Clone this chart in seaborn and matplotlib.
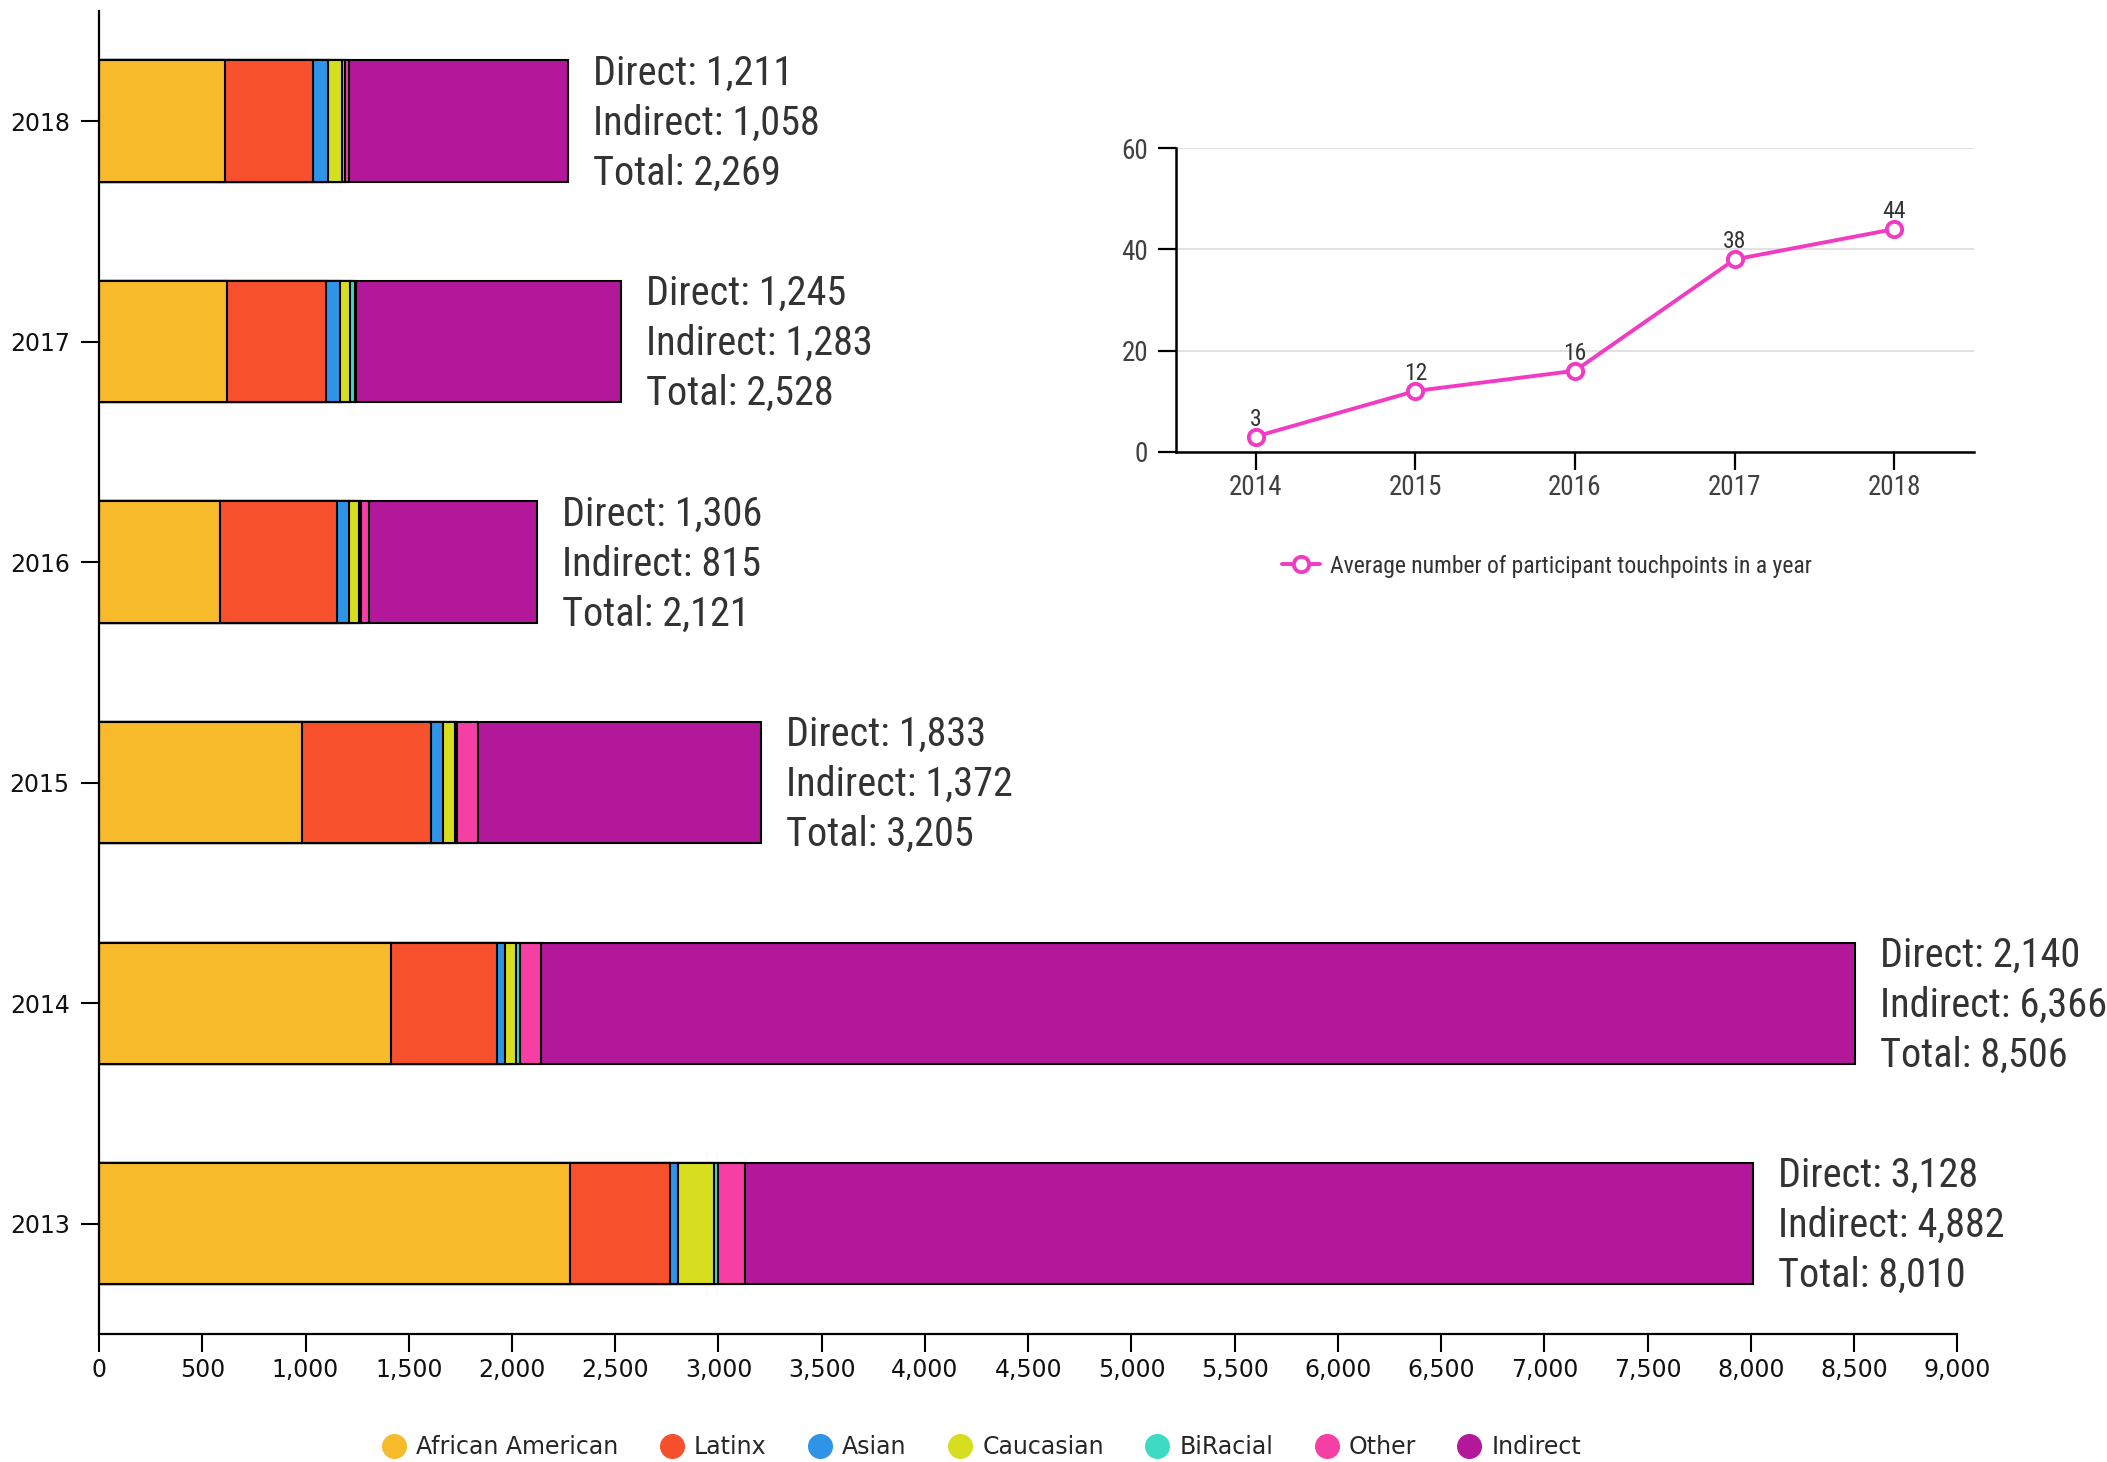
import matplotlib
matplotlib.use("Agg")
import matplotlib.pyplot as plt
import matplotlib.ticker as mticker
from matplotlib.lines import Line2D
import seaborn as sns
import pandas as pd

# participants by year (direct split by group, plus indirect)
years = ["2018", "2017", "2016", "2015", "2014", "2013"]
african_american = [612, 622, 585, 983, 1416, 2280]
latinx = [422, 479, 569, 625, 510, 485]
asian = [76, 67, 58, 58, 39, 37]
caucasian = [65, 48, 46, 56, 56, 177]
biracial = [18, 24, 12, 14, 20, 17]
other = [18, 5, 36, 97, 99, 132]
indirect = [1058, 1283, 815, 1372, 6366, 4882]
direct = [1211, 1245, 1306, 1833, 2140, 3128]
total = [2269, 2528, 2121, 3205, 8506, 8010]

# inset: average touchpoints
touch_years = [2014, 2015, 2016, 2017, 2018]
touchpoints = [3, 12, 16, 38, 44]

segments = ["African American", "Latinx", "Asian", "Caucasian", "BiRacial", "Other", "Indirect"]
colors = ["#F7BA2B", "#F7502D", "#2F93E8", "#D6DE1F", "#3DDBC4", "#F53FA5", "#B3179A"]

df = pd.DataFrame({
    "year": years,
    "African American": african_american,
    "Latinx": latinx,
    "Asian": asian,
    "Caucasian": caucasian,
    "BiRacial": biracial,
    "Other": other,
    "Indirect": indirect,
})
cum = df[segments].cumsum(axis=1)
cum["year"] = df["year"]

sns.set_style("white")
plt.rcParams["font.family"] = ["DejaVu Sans"]
cond = ["Roboto Condensed", "Liberation Sans Narrow", "Roboto", "DejaVu Sans"]

fig = plt.figure(figsize=(21.07, 14.62), dpi=100)
ax = fig.add_axes([0.047, 0.0876, 0.882, 0.905])

# stacked bars: draw cumulative totals from the longest down so edges show
for seg, col in reversed(list(zip(segments, colors))):
    sns.barplot(data=cum, x=seg, y="year", order=years, orient="h",
                color=col, saturation=1, width=0.55, edgecolor="black",
                linewidth=1.5, errorbar=None, ax=ax)

ax.set_xlabel("")
ax.set_ylabel("")
ax.set_xlim(0, 9000)
ax.set_ylim(5.5, -0.5)
ax.xaxis.set_major_locator(mticker.MultipleLocator(500))
ax.xaxis.set_major_formatter(mticker.FuncFormatter(lambda v, p: f"{int(v):,}"))
for s in ["top", "right"]:
    ax.spines[s].set_visible(False)
for s in ["left", "bottom"]:
    ax.spines[s].set_linewidth(1.6)
    ax.spines[s].set_color("black")
ax.tick_params(axis="x", length=13, width=1.5, pad=4, colors="black")
ax.tick_params(axis="y", length=13, width=1.5, pad=8, colors="black")
ax.tick_params(left=True, bottom=True)
for lab in ax.get_xticklabels() + ax.get_yticklabels():
    lab.set_fontsize(17)
    lab.set_color("#111111")

for i, (d, ind, t) in enumerate(zip(direct, indirect, total)):
    for k, txt in enumerate([f"Direct: {d:,}", f"Indirect: {ind:,}", f"Total: {t:,}"]):
        ax.annotate(txt, xy=(t, i), xytext=(25, (1 - k) * 50 - 2), textcoords="offset pixels",
                    ha="left", va="center", fontsize=29, color="#333333", family=cond)

handles = [Line2D([], [], marker="o", linestyle="none", markersize=17,
                  markerfacecolor=c, markeredgecolor=c) for c in colors]
fig.legend(handles, segments, loc="center", bbox_to_anchor=(0.466, 0.010), ncol=7,
           frameon=False, fontsize=17, handletextpad=0.45, columnspacing=1.75,
           handlelength=1.0)

# inset line chart
ax2 = fig.add_axes([0.558, 0.691, 0.379, 0.2077])
sns.lineplot(x=touch_years, y=touchpoints, ax=ax2, color="#F23BC3", linewidth=2.8,
             marker="o", markersize=11, markerfacecolor="white",
             markeredgecolor="#F23BC3", markeredgewidth=2.8,
             label="Average number of participant touchpoints in a year")
for x, y in zip(touch_years, touchpoints):
    ax2.annotate(str(y), xy=(x, y), xytext=(0, 6), textcoords="offset pixels",
                 ha="center", va="bottom", fontsize=17, color="#333333", family=cond)
ax2.set_xlim(2013.5, 2018.5)
ax2.set_ylim(0, 60)
ax2.set_xticks(touch_years)
ax2.set_yticks([0, 20, 40, 60])
ax2.yaxis.grid(True, color="#e2e2e2", linewidth=1.5)
ax2.set_axisbelow(True)
for s in ["top", "right"]:
    ax2.spines[s].set_visible(False)
for s in ["left", "bottom"]:
    ax2.spines[s].set_linewidth(1.8)
    ax2.spines[s].set_color("black")
ax2.tick_params(axis="x", length=13, width=1.6, pad=3, colors="black")
ax2.tick_params(axis="y", length=13, width=1.6, pad=7, colors="black")
ax2.tick_params(left=True, bottom=True)
for lab in ax2.get_xticklabels() + ax2.get_yticklabels():
    lab.set_family(cond)
    lab.set_fontsize(19.5)
    lab.set_color("#404040")
leg = ax2.legend(loc="center", bbox_to_anchor=(0.465, -0.377), frameon=False,
                 fontsize=17, handlelength=1.6, handletextpad=0.4)
for t in leg.get_texts():
    t.set_family(cond)
    t.set_color("#333333")

fig.savefig("out.png", dpi=100)
